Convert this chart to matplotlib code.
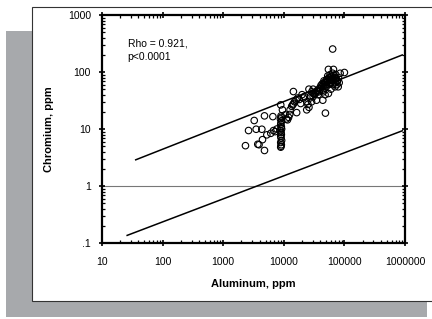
import matplotlib
matplotlib.use("Agg")
import matplotlib.pyplot as plt
from matplotlib.patches import Rectangle
from matplotlib.ticker import LogLocator, FixedLocator, FixedFormatter, NullFormatter

plt.rcParams['font.family'] = ['Liberation Sans', 'DejaVu Sans']

# Data (Aluminum ppm, Chromium ppm)
aluminum = [2330, 2620, 3250, 3500, 4340, 3720, 3900, 4450, 4800, 4800, 5250, 6600, 6100,
            6750, 7700, 7200,
            8900, 9000, 9100, 8800, 9200, 9000, 8900, 9100, 9000, 9200, 8800, 9000, 9100,
            8900, 9000, 9200, 8900, 9100, 9000, 8900,
            9500, 10500, 11500, 12000, 12700, 13500, 14000, 14400, 14400, 15000, 16000,
            16300, 17000, 20000, 21100, 22000, 23900, 25000, 26000, 26000, 27000, 28700,
            29000, 30500, 30500, 32000, 33000, 34600, 36000, 37000, 38000, 40000, 42000,
            44000, 45000, 45000, 46000, 48000, 48600, 50000, 50000, 52000, 53000, 54500,
            54500, 55000, 56000, 57000, 58000, 60000, 60000, 61000, 62000, 64000, 64000,
            65000, 66000, 66000, 68000, 70000, 70000, 72000, 74000, 75000, 77000, 79000,
            80000, 82000, 85000, 100000,
            39000, 41000, 43000, 44000, 46000, 47000, 49000, 51000, 53000, 55000, 57000,
            59000, 62000, 67000, 71000, 76000, 34000, 36000, 31000, 27500, 24000, 19000,
            18000, 12500, 11000]
chromium = [5.1, 9.4, 14.1, 9.9, 9.9, 5.4, 5.3, 6.5, 17, 4.2, 7.9, 16.5, 8.4,
            9.4, 10, 9.0,
            26.5, 17, 16, 15, 14, 13, 12, 11, 10.5, 10, 9.3, 8.7, 8, 7.5,
            7, 6.3, 5.8, 5.3, 5.0, 4.8,
            21.7, 17.7, 14.5, 16, 21.7, 25, 26.5, 45.4, 27.6, 30, 32,
            19.4, 35, 40, 35, 37, 21.7, 27, 24, 50, 35, 30,
            45, 37, 50, 40, 42, 32, 48, 40, 45, 50, 55,
            32, 60, 45, 70, 40, 19, 65, 55, 75, 85, 111,
            42, 60, 70, 80, 90, 50, 65, 75, 85, 253, 95,
            60, 111, 70, 80, 55, 65, 90, 75, 60, 70, 55,
            80, 65, 95, 98,
            52, 58, 62, 48, 55, 66, 60, 72, 68, 78, 64,
            82, 72, 88, 76, 68, 44, 46, 42, 38, 30, 28,
            33, 18, 15]

# Reference lines (endpoints)
upper_x = [36, 900000]
upper_y = [2.88, 199]
lower_x = [26, 900000]
lower_y = [0.136, 9.3]

x_ticks = [10, 100, 1000, 10000, 100000, 1000000]
x_labels = ['10', '100', '1000', '10000', '100000', '1000000']
y_ticks = [0.1, 1, 10, 100, 1000]
y_labels = ['.1', '1', '10', '100', '1000']

fig = plt.figure(figsize=(4.32, 3.19), dpi=100)
fig.patch.set_facecolor('white')

# gray shadow and white framed box
fig.add_artist(Rectangle((6/432, 1-317/319), (427-6)/432, (317-31)/319,
                         transform=fig.transFigure, facecolor='#a7a9ac', edgecolor='none', zorder=0))
fig.add_artist(Rectangle((32/432, 1-301/319), 1.2, (301-7)/319,
                         transform=fig.transFigure, facecolor='white', edgecolor='#333333',
                         linewidth=0.8, zorder=0.5))

ax = fig.add_axes([102/432, 1-243/319, (405-102)/432, (243-15)/319])
ax.set_facecolor('white')
ax.set_zorder(1)
ax.set_xscale('log')
ax.set_yscale('log')
ax.set_xlim(10, 1000000)
ax.set_ylim(0.1, 1000)

ax.axhline(1, color='#777777', linewidth=0.8, zorder=1)
ax.plot(upper_x, upper_y, color='black', linewidth=1.1, zorder=2)
ax.plot(lower_x, lower_y, color='black', linewidth=1.1, zorder=2)
ax.scatter(aluminum, chromium, s=22, facecolors='none', edgecolors='black', linewidths=0.8, zorder=3)

ax.xaxis.set_major_locator(FixedLocator(x_ticks))
ax.xaxis.set_major_formatter(FixedFormatter(x_labels))
ax.yaxis.set_major_locator(FixedLocator(y_ticks))
ax.yaxis.set_major_formatter(FixedFormatter(y_labels))
ax.xaxis.set_minor_locator(LogLocator(base=10, subs=range(2, 10), numticks=20))
ax.yaxis.set_minor_locator(LogLocator(base=10, subs=range(2, 10), numticks=20))
ax.xaxis.set_minor_formatter(NullFormatter())
ax.yaxis.set_minor_formatter(NullFormatter())

for s in ax.spines.values():
    s.set_linewidth(1.6)
    s.set_color('black')
ax.tick_params(which='major', direction='inout', length=5, width=1.2,
               top=True, right=True, labelsize=7.5)
ax.tick_params(axis='x', which='major', pad=7.5)
ax.tick_params(axis='y', which='major', pad=5.5)
ax.tick_params(which='minor', direction='in', length=2.5, width=0.9, top=True, right=True)

ax.set_xlabel('Aluminum, ppm', fontsize=8, fontweight='bold', labelpad=9)
ax.set_ylabel('Chromium, ppm', fontsize=8, fontweight='bold', labelpad=10)

ax.text(0.085, 0.895, 'Rho = 0.921,\np<0.0001', transform=ax.transAxes,
        fontsize=7.5, va='top', ha='left', linespacing=1.4)

fig.savefig('out.png', dpi=100, facecolor='white')
